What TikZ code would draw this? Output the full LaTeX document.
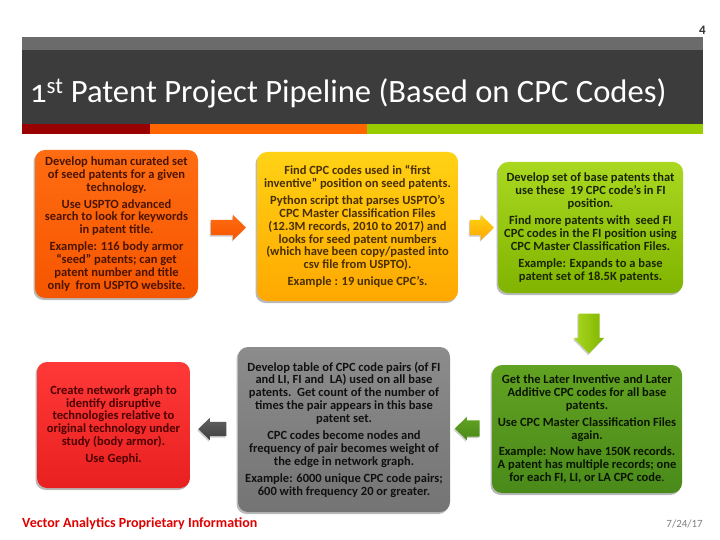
\documentclass[tikz,border=0pt]{standalone}
\usepackage{fontspec}
\setmainfont{Carlito}
\newfontfamily\titlefont[Numbers=OldStyle]{Carlito}
\usetikzlibrary{shapes.arrows,shadows}

% palette
\definecolor{bandgray}{HTML}{6B6B6B}
\definecolor{banddark}{HTML}{3C3C3C}
\definecolor{barred}{HTML}{990000}
\definecolor{barorange}{HTML}{FF6600}
\definecolor{bargreen}{HTML}{99CC00}
\definecolor{pagegray}{HTML}{333333}
\definecolor{footred}{HTML}{E00000}
\definecolor{dategray}{HTML}{808080}
\definecolor{orangeA}{HTML}{FF6C12}
\definecolor{orangeB}{HTML}{F65600}
\definecolor{orangeT}{HTML}{4A1400}
\definecolor{yellowA}{HTML}{FFD214}
\definecolor{yellowB}{HTML}{FFA800}
\definecolor{yellowT}{HTML}{4A3000}
\definecolor{limeA}{HTML}{AAD820}
\definecolor{limeB}{HTML}{80B400}
\definecolor{limeT}{HTML}{1A2600}
\definecolor{leafA}{HTML}{62A222}
\definecolor{leafB}{HTML}{4A8A1A}
\definecolor{leafT}{HTML}{0A1500}
\definecolor{greyA}{HTML}{8C8C8C}
\definecolor{greyB}{HTML}{747474}
\definecolor{greyT}{HTML}{111111}
\definecolor{redA}{HTML}{FF3838}
\definecolor{redB}{HTML}{E82020}
\definecolor{redT}{HTML}{4D0000}

\tikzset{
  stepbox/.style={rounded corners=10pt, align=center, inner sep=0pt,
    font=\bfseries\fontsize{12.5}{12.9}\selectfont,
    drop shadow={shadow xshift=-1.5pt, shadow yshift=-2pt, opacity=0.55}},
  blockarrow/.style={single arrow, draw=none, single arrow tip angle=88,
    drop shadow={shadow xshift=-1pt, shadow yshift=-1.5pt, opacity=0.4}},
}

\begin{document}
\begin{tikzpicture}[x=1pt,y=1pt]
\useasboundingbox (0,0) rectangle (720,-540);
\fill[white] (0,0) rectangle (720,-540);

% header band
\fill[bandgray] (22,-37) rectangle (703,-50);
\fill[banddark] (22,-50) rectangle (703,-124);
\fill[barred] (22,-124) rectangle (150,-134);
\fill[barorange] (150,-124) rectangle (367,-134);
\fill[bargreen] (367,-124) rectangle (703,-134);
\node[anchor=base west, text=white, inner sep=0pt,
  font=\titlefont\fontsize{32.6}{36}\selectfont] (title) at (30,-103)
  {1\textsuperscript{st} Patent Project Pipeline (Based on CPC Codes)};
\node[anchor=east, inner sep=0pt, text=pagegray,
  font=\bfseries\fontsize{13}{15}\selectfont] (pagenum) at (706,-30) {4};

% pipeline steps
\node[stepbox, minimum width=163pt, minimum height=148pt,
  top color=orangeA, bottom color=orangeB, text=orangeT] (seed) at (116.5,-224)
  {Develop human curated set\\ of seed patents for a given\\ technology.\\[4pt]
   Use USPTO advanced\\ search to look for keywords\\ in patent title.\\[4pt]
   Example: 116 body armor\\ “seed” patents; can get\\ patent number and title\\ only\ \ from USPTO website.};

\node[stepbox, minimum width=201pt, minimum height=149pt,
  top color=yellowA, bottom color=yellowB, text=yellowT] (firstcpc) at (357.5,-226.5)
  {Find CPC codes used in “first\\ inventive” position on seed patents.\\[4pt]
   Python script that parses USPTO’s\\ CPC Master Classification Files\\ (12.3M records, 2010 to 2017) and\\ looks for seed patent numbers\\ (which have been copy/pasted into\\ csv file from USPTO).\\[4pt]
   Example : 19 unique CPC’s.};

\node[stepbox, minimum width=185pt, minimum height=131pt,
  top color=limeA, bottom color=limeB, text=limeT] (base) at (590.5,-227.5)
  {Develop set of base patents that\\ use these\ \ 19 CPC code’s in FI\\ position.\\[4pt]
   Find more patents with\ \ seed FI\\ CPC codes in the FI position using\\ CPC Master Classification Files.\\[4pt]
   Example: Expands to a base\\ patent set of 18.5K patents.};

\node[stepbox, minimum width=190pt, minimum height=128pt,
  top color=leafA, bottom color=leafB, text=leafT] (later) at (587,-429)
  {Get the Later Inventive and Later\\ Additive CPC codes for all base\\ patents.\\[4pt]
   Use CPC Master Classification Files\\ again.\\[4pt]
   Example: Now have 150K records.\\ A patent has multiple records; one\\ for each FI, LI, or LA CPC code{\mdseries .}};

\node[stepbox, minimum width=212pt, minimum height=165pt,
  top color=greyA, bottom color=greyB, text=greyT] (pairs) at (344,-429.5)
  {Develop table of CPC code pairs (of FI\\ and LI, FI and\ \ LA) used on all base\\ patents.\ \ Get count of the number of\\ times the pair appears in this base\\ patent set.\\[4pt]
   CPC codes become nodes and\\ frequency of pair becomes weight of\\ the edge in network graph.\\[4pt]
   Example: 6000 unique CPC code pairs;\\ 600 with frequency 20 or greater.};

\node[stepbox, minimum width=153pt, minimum height=126pt,
  top color=redA, bottom color=redB, text=redT] (graph) at (113.5,-425)
  {Create network graph to\\ identify disruptive\\ technologies relative to\\ original technology under\\ study (body armor).\\[4pt]
   Use Gephi.};

% block arrows between the steps (inner sep sets half the shaft width)
\node[blockarrow, inner sep=7.5pt, minimum height=35pt, single arrow head extend=5pt,
  top color=orangeA, bottom color=orangeB] (a1) at (224.5,-227.5) {};
\node[blockarrow, inner sep=7.5pt, minimum height=24pt, single arrow head extend=5pt,
  top color=yellowA, bottom color=yellowB] (a2) at (478,-227.5) {};
\node[blockarrow, inner sep=10.5pt, minimum height=40pt, single arrow head extend=4.5pt,
  shape border rotate=270, left color=limeA, right color=limeB] (a3) at (589,-328) {};
\node[blockarrow, inner sep=8pt, minimum height=23pt, single arrow head extend=3.5pt,
  shape border rotate=180, top color=leafA, bottom color=leafB] (a4) at (471.5,-428.5) {};
\node[blockarrow, inner sep=7pt, minimum height=28pt, single arrow head extend=4pt,
  shape border rotate=180, top color=black!62, bottom color=black!75] (a5) at (216,-429) {};

% footer
\node[anchor=base west, inner sep=0pt, text=footred,
  font=\bfseries\fontsize{14}{16}\selectfont] (footer) at (22,-527)
  {Vector Analytics Proprietary Information};
\node[anchor=base east, inner sep=0pt, text=dategray,
  font=\fontsize{11}{13}\selectfont] (date) at (703,-527) {7/24/17};
\end{tikzpicture}
\end{document}
